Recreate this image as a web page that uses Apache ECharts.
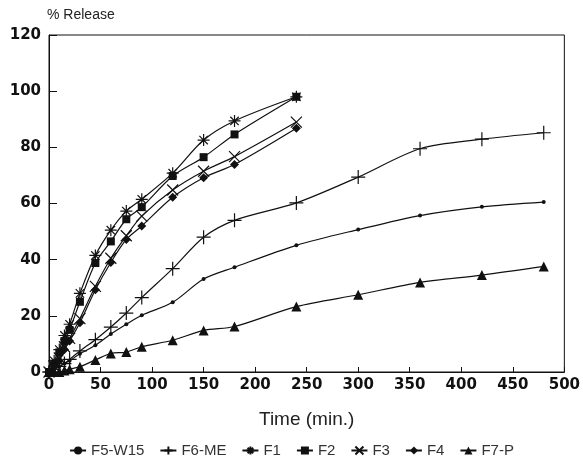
<!DOCTYPE html>
<html>
<head>
<meta charset="utf-8">
<title>% Release vs Time</title>
<script src="https://cdn.jsdelivr.net/npm/echarts@6/dist/echarts.min.js"></script>
<style>
  html, body { margin: 0; padding: 0; background: #fff; }
  #chart { width: 583px; height: 476px; }
</style>
</head>
<body>
<div id="chart"></div>
<script>
// sampling times (min.)
var timesShort = [0, 5, 10, 15, 20, 30, 45, 60, 75, 90, 120, 150, 180, 240];
var timesLong = [0, 5, 10, 15, 20, 30, 45, 60, 75, 90, 120, 150, 180, 240, 300, 360, 420, 480];

// % release
var f5w15 = [0, 1, 2, 3, 4, 6.5, 9.5, 13.5, 17, 20.2, 24.8, 33.1, 37.3, 45.1, 50.7, 55.7, 58.8, 60.5];
var f6me = [0, 1, 2, 3, 4.5, 7.5, 11.5, 16, 21, 26.5, 36.8, 48, 54, 60.2, 69.4, 79.5, 82.9, 85.2];
var f1 = [0, 4, 8, 13, 17, 28, 41.5, 50.5, 57.3, 61.5, 70.8, 82.6, 89.4, 98];
var f2 = [0, 3, 7, 11, 15, 25, 38.8, 46.5, 54.4, 58.7, 69.8, 76.5, 84.6, 98];
var f3 = [0, 2, 5, 9, 12, 19, 30.5, 40.5, 48.5, 55.5, 64.8, 71.5, 76.7, 89];
var f4 = [0, 2, 4, 8, 11, 17.5, 29.3, 39, 47.2, 52, 62.2, 69.2, 73.9, 86.8];
var f7p = [0, 0, 0, 0.5, 1, 1.9, 4.3, 6.6, 7.1, 9, 11.3, 14.8, 16.2, 23.3, 27.5, 31.9, 34.5, 37.6];

var yTicks = [0, 20, 40, 60, 80, 100, 120];
var xTicks = [0, 50, 100, 150, 200, 250, 300, 350, 400, 450, 500];

var ink = '#111';

function pairs(ts, vs) {
  return ts.map(function (t, i) { return [t, vs[i]]; });
}

// stroked marker shapes
var plusPath = 'path://M0 5 L10 5 M5 0 L5 10';
var crossPath = 'path://M0 0 L10 10 M10 0 L0 10';
var starPath = 'path://M0 5 L10 5 M5 0 L5 10 M1.5 1.5 L8.5 8.5 M8.5 1.5 L1.5 8.5';

function mkSeries(name, ts, vs, symbol, size, strokeOnly) {
  return {
    name: name,
    type: 'line',
    data: pairs(ts, vs),
    smooth: 0.3,
    symbol: symbol,
    symbolSize: size,
    showAllSymbol: true,
    lineStyle: { color: ink, width: 1.2 },
    itemStyle: strokeOnly
      ? { color: ink, borderColor: ink, borderWidth: 1.2 }
      : { color: ink },
    emphasis: { disabled: true }
  };
}

var chart = echarts.init(document.getElementById('chart'), null, { renderer: 'canvas' });

chart.setOption({
  animation: false,
  backgroundColor: '#fff',
  grid: {
    left: 49, right: 18, top: 35, bottom: 104,
    show: true, borderColor: ink, borderWidth: 1
  },
  legend: {
    bottom: 13,
    left: 'center',
    itemWidth: 16,
    itemHeight: 10,
    itemGap: 15,
    textStyle: { fontFamily: 'Liberation Sans', fontSize: 15, color: '#333' },
    data: ['F5-W15', 'F6-ME', 'F1', 'F2', 'F3', 'F4', 'F7-P']
  },
  xAxis: {
    type: 'value',
    min: 0, max: 500, interval: 50,
    name: 'Time (min.)',
    nameLocation: 'middle',
    nameGap: 38,
    nameTextStyle: { fontFamily: 'Liberation Sans', fontSize: 19, color: '#222' },
    axisLine: { lineStyle: { color: ink, width: 1 } },
    axisTick: { inside: true, length: 5, lineStyle: { color: ink } },
    axisLabel: {
      margin: 6,
      fontFamily: 'DejaVu Sans', fontWeight: 'bold', fontSize: 15, color: ink,
      customValues: xTicks
    },
    splitLine: { show: false }
  },
  yAxis: {
    type: 'value',
    min: 0, max: 120, interval: 20,
    name: '% Release',
    nameLocation: 'end',
    nameGap: 13,
    nameTextStyle: { fontFamily: 'Liberation Sans', fontSize: 14, color: '#222', align: 'left', padding: [0, 0, 0, -2] },
    axisLine: { lineStyle: { color: ink, width: 1 } },
    axisTick: { inside: true, length: 8, lineStyle: { color: ink } },
    axisLabel: {
      margin: 8,
      fontFamily: 'DejaVu Sans', fontWeight: 'bold', fontSize: 15, color: ink,
      customValues: yTicks
    },
    splitLine: { show: false }
  },
  series: [
    mkSeries('F5-W15', timesLong, f5w15, 'circle', 4, false),
    mkSeries('F6-ME', timesLong, f6me, plusPath, 14, true),
    mkSeries('F1', timesShort, f1, starPath, 12, true),
    mkSeries('F2', timesShort, f2, 'rect', 8, false),
    mkSeries('F3', timesShort, f3, crossPath, 11, true),
    mkSeries('F4', timesShort, f4, 'diamond', 9, false),
    mkSeries('F7-P', timesLong, f7p, 'triangle', 10, false)
  ]
});
</script>
</body>
</html>
